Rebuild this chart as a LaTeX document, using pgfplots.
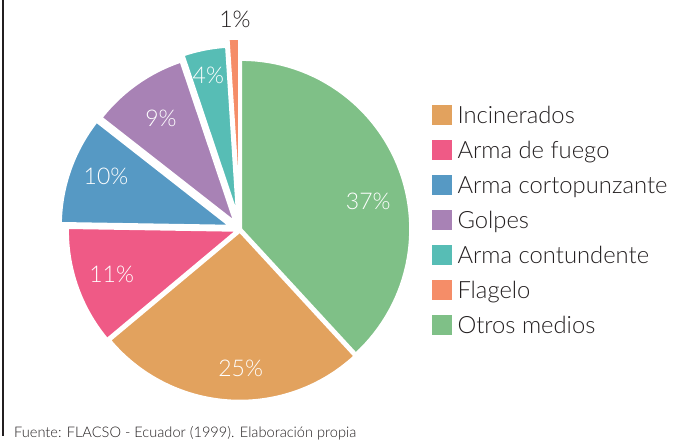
\documentclass[border=0pt]{standalone}
\usepackage{fontspec}
\setmainfont{Lato Light}
\usepackage{pgfplots}
\pgfplotsset{compat=1.18}
\definecolor{cInc}{RGB}{226,162,94}
\definecolor{cFue}{RGB}{239,90,134}
\definecolor{cCor}{RGB}{86,153,196}
\definecolor{cGol}{RGB}{168,130,181}
\definecolor{cCon}{RGB}{87,189,181}
\definecolor{cFla}{RGB}{245,141,104}
\definecolor{cOtr}{RGB}{127,192,135}
\definecolor{txt}{RGB}{35,31,32}
\newcommand{\pf}{\fontsize{23}{25}\selectfont}
\newcommand{\lf}{\fontsize{23.8}{26}\selectfont}
\begin{document}
\begin{tikzpicture}
\useasboundingbox (0,0) rectangle (694pt,442pt);
\begin{axis}[at={(0pt,0pt)}, anchor=south west, x=1pt, y=1pt,
  xmin=0, xmax=694, ymin=0, ymax=442, hide axis, clip=false, scale only axis,
  legend cell align=left,
  legend style={at={(axis cs:432,337.2)}, anchor=north west, draw=none, fill=none,
    inner sep=0pt, outer sep=0pt, row sep=14.5pt, column sep=5.5pt,
    font=\lf, text=txt, nodes={inner sep=0pt, anchor=base west}},
  legend image code/.code={\fill[#1, draw=none] (0pt,-1pt) rectangle (20pt,19pt);},
  every axis plot/.append style={draw=white, line width=2.5pt, samples=60, variable=\t}]
% values (%): Incinerados 25, Arma de fuego 11, Arma cortopunzante 10, Golpes 9,
% Arma contundente 4, Flagelo 1, Otros medios 37 (sum 97, angle = value*360/97)
\addplot[fill=cInc, domain=-140.10:-47.32] ({239.87+169.5*cos(\t)}, {210.50+169.5*sin(\t)}) -- (axis cs:239.87,210.50) -- cycle;
\addlegendentry{Incinerados}
\addplot[fill=cFue, domain=179.07:219.90] ({237.17+169.5*cos(\t)}, {211.50+169.5*sin(\t)}) -- (axis cs:237.17,211.50) -- cycle;
\addlegendentry{Arma de fuego}
\addplot[fill=cCor, domain=141.96:179.07] ({230.10+169.5*cos(\t)}, {216.00+169.5*sin(\t)}) -- (axis cs:230.10,216.00) -- cycle;
\addlegendentry{Arma cortopunzante}
\addplot[fill=cGol, domain=108.56:141.96] ({234.80+169.5*cos(\t)}, {219.85+169.5*sin(\t)}) -- (axis cs:234.80,219.85) -- cycle;
\addlegendentry{Golpes}
\addplot[fill=cCon, domain=93.71:108.56] ({237.30+169.5*cos(\t)}, {226.24+169.5*sin(\t)}) -- (axis cs:237.30,226.24) -- cycle;
\addlegendentry{Arma contundente}
\addplot[fill=cFla, domain=90:93.71, samples=10] ({239.30+169.5*cos(\t)}, {233.99+169.5*sin(\t)}) -- (axis cs:239.30,233.99) -- cycle;
\addlegendentry{Flagelo}
\addplot[fill=cOtr, domain=-47.32:90] ({240.93+169.5*cos(\t)}, {212.86+169.5*sin(\t)}) -- (axis cs:240.93,212.86) -- cycle;
\addlegendentry{Otros medios}
\node[font=\pf, text=white] at (axis cs:368.3,240.3) {37\%};
\node[font=\pf, text=white] at (axis cs:240.7,73.7) {25\%};
\node[font=\pf, text=white] at (axis cs:111.7,168) {11\%};
\node[font=\pf, text=white] at (axis cs:106,266) {10\%};
\node[font=\pf, text=white] at (axis cs:161,323.7) {9\%};
\node[font=\pf, text=white] at (axis cs:208.3,367) {4\%};
\node[font=\pf, text=txt] at (axis cs:235,422.5) {1\%};
\node[anchor=base west, font=\fontsize{14.6}{16}\selectfont, text=txt, inner sep=0pt] at (axis cs:14,4.5) {Fuente: FLACSO - Ecuador (1999). Elaboración propia};
\draw[line width=2pt, txt] (axis cs:3,442) -- (axis cs:3,6);
\end{axis}
\end{tikzpicture}
\end{document}
